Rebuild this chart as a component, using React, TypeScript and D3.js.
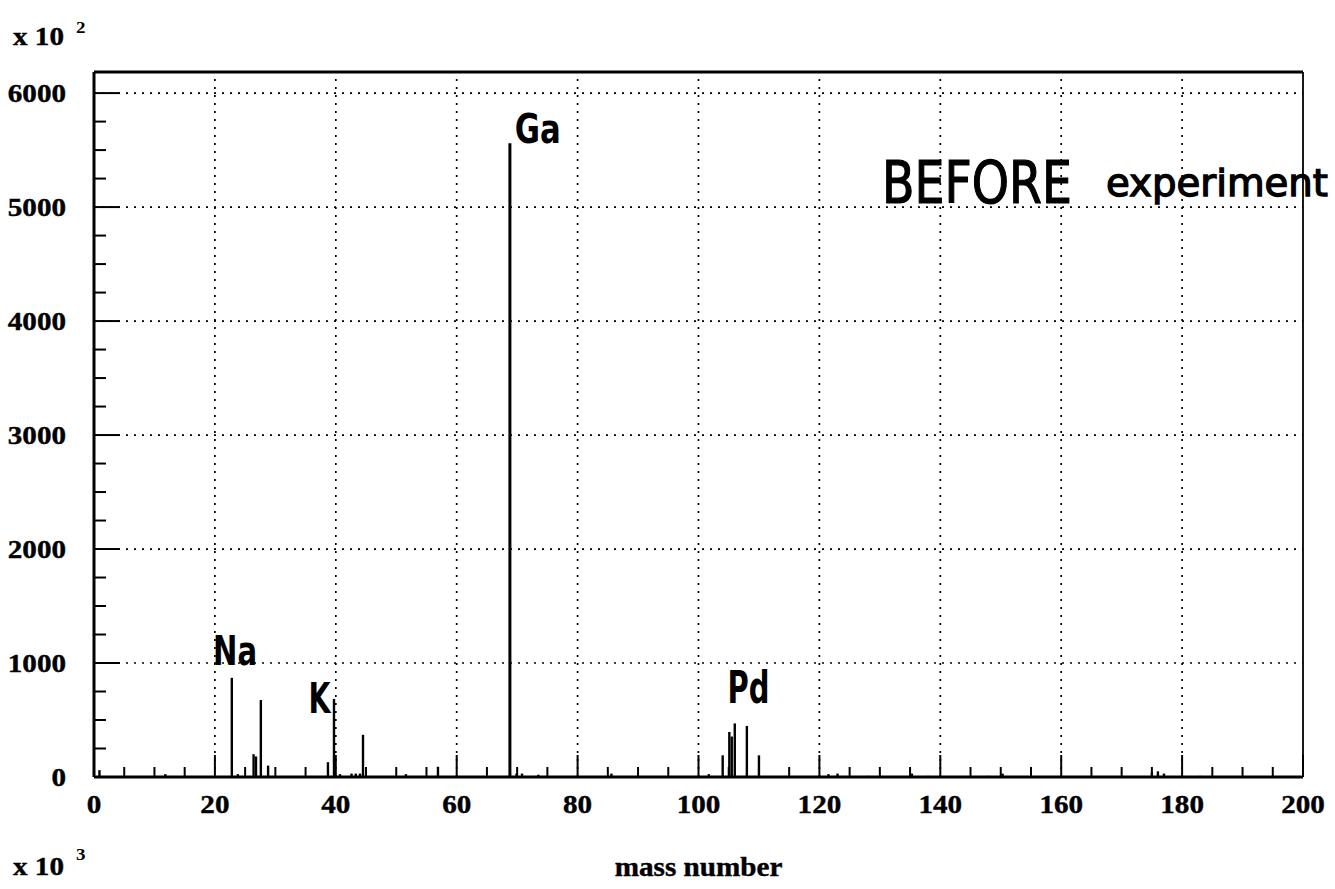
import React from "react";
import * as d3 from "d3";

// ---- data (intensity in units of 10^2 counts) ----
const peakMass = [0.9, 11.8, 22.8, 23.8, 26.4, 26.8, 27.6, 28.8, 38.7, 39.7, 40.7, 42.6, 43.3, 44.0, 44.5, 51.6, 56.9, 68.8, 69.9, 70.8, 73.5, 85.6, 101.7, 104.0, 105.1, 105.5, 106.0, 108.0, 110.0, 121.5, 123.0, 128.0, 135.3, 138.0, 148.0, 150.3, 175.0, 176.0, 177.0, 183.0];
const peakValue = [60, 25, 870, 25, 200, 180, 675, 100, 130, 685, 25, 30, 30, 30, 370, 25, 90, 5560, 30, 30, 20, 30, 25, 190, 395, 355, 470, 448, 190, 25, 30, 10, 30, 10, 10, 30, 40, 50, 30, 10];
const xTickLabels = ["0", "20", "40", "60", "80", "100", "120", "140", "160", "180", "200"];
const yTickLabels = ["0", "1000", "2000", "3000", "4000", "5000", "6000"];
const annotations = [
  { text: "Ga", mass: 69.6, value: 5560, len: 46, size: 40 },
  { text: "Na", mass: 19.7, value: 985, len: 44, size: 40 },
  { text: "K", mass: 35.5, value: 565, len: 22, size: 42 },
  { text: "Pd", mass: 104.8, value: 645, len: 42, size: 44 },
];

const W = 1335, H = 889;
const left = 94, right = 1303, top = 72, bottom = 777;

export default function App() {
  const x = d3.scaleLinear().domain([0, 200]).range([left, right]);
  const y = d3.scaleLinear().domain([0, 6185]).range([bottom, top]);
  const xTicks = d3.range(0, 201, 5);
  const yTicks = d3.range(0, 6185, 250);
  const serif = "'Liberation Serif', 'Times New Roman', serif";
  const hand = "'DejaVu Sans', sans-serif";
  const sx = 1.12;
  const fs = 26;
  return (
    <svg width={W} height={H} style={{ position: "absolute", left: 0, top: 0, background: "#fff" }}>
      <rect x={0} y={0} width={W} height={H} fill="#fff" />
      {/* grid */}
      {xTickLabels.slice(1, -1).map((t) => (
        <line key={"gx" + t} x1={x(+t)} x2={x(+t)} y1={bottom} y2={top} stroke="#000" strokeWidth={1.7} strokeDasharray="2 6" />
      ))}
      {yTickLabels.slice(1).map((t) => (
        <line key={"gy" + t} x1={left} x2={right} y1={y(+t)} y2={y(+t)} stroke="#000" strokeWidth={1.7} strokeDasharray="2 6" />
      ))}
      {/* ticks */}
      {xTicks.map((v) => (
        <line key={"tx" + v} x1={x(v)} x2={x(v)} y1={bottom} y2={bottom - (v % 20 === 0 ? 22 : 10)} stroke="#000" strokeWidth={2} />
      ))}
      {yTicks.map((v) => (
        <line key={"ty" + v} x1={left} x2={left + (v % 1000 === 0 ? 26 : 12)} y1={y(v)} y2={y(v)} stroke="#000" strokeWidth={2} />
      ))}
      {/* spectrum */}
      {peakMass.map((m, i) => (
        <line key={"p" + i} x1={x(m)} x2={x(m)} y1={bottom} y2={y(peakValue[i])} stroke="#000" strokeWidth={peakValue[i] > 3000 ? 3 : 2.4} />
      ))}
      {/* frame */}
      <line x1={left} x2={right} y1={bottom} y2={bottom} stroke="#000" strokeWidth={3} />
      <line x1={left} x2={left} y1={bottom} y2={top} stroke="#000" strokeWidth={3} />
      <line x1={left} x2={right} y1={top} y2={top} stroke="#000" strokeWidth={2.8} />
      <line x1={right} x2={right} y1={bottom} y2={top} stroke="#000" strokeWidth={1.8} />
      {/* tick labels */}
      {xTickLabels.map((t) => (
        <text key={"lx" + t} transform={`translate(${x(+t)},${813}) scale(${sx},1)`} textAnchor="middle" fontFamily={serif} fontWeight="bold" fontSize={fs} stroke="#000" strokeWidth={0.4}>{t}</text>
      ))}
      {yTickLabels.map((t) => (
        <text key={"ly" + t} transform={`translate(${66},${y(+t) + 9}) scale(${sx},1)`} textAnchor="end" fontFamily={serif} fontWeight="bold" fontSize={fs} stroke="#000" strokeWidth={0.4}>{t}</text>
      ))}
      {/* axis titles */}
      <text transform={`translate(${x(100)},876) scale(1.08,1)`} textAnchor="middle" fontFamily={serif} fontWeight="bold" fontSize={27} stroke="#000" strokeWidth={0.4}>mass number</text>
      <text transform={`translate(13,45) scale(${sx},1)`} fontFamily={serif} fontWeight="bold" fontSize={fs} stroke="#000" strokeWidth={0.4}>x 10</text>
      <text transform={`translate(76,33) scale(${sx},1)`} fontFamily={serif} fontWeight="bold" fontSize={17}>2</text>
      <text transform={`translate(13,875) scale(${sx},1)`} fontFamily={serif} fontWeight="bold" fontSize={fs} stroke="#000" strokeWidth={0.4}>x 10</text>
      <text transform={`translate(76,860) scale(${sx},1)`} fontFamily={serif} fontWeight="bold" fontSize={17}>3</text>
      {/* handwritten annotations */}
      {annotations.map((a) => (
        <text key={a.text} x={x(a.mass)} y={y(a.value)} fontFamily={hand} fontWeight="bold" fontSize={a.size} textLength={a.len} lengthAdjust="spacingAndGlyphs" fill="#000">{a.text}</text>
      ))}
      <text x={882} y={203} fontFamily={hand} fontSize={58} textLength={190} lengthAdjust="spacingAndGlyphs" stroke="#000" strokeWidth={1.2}>BEFORE</text>
      <text x={1106} y={196} fontFamily={hand} fontSize={38} textLength={222} lengthAdjust="spacingAndGlyphs" stroke="#000" strokeWidth={1.3}>experiment</text>
    </svg>
  );
}
